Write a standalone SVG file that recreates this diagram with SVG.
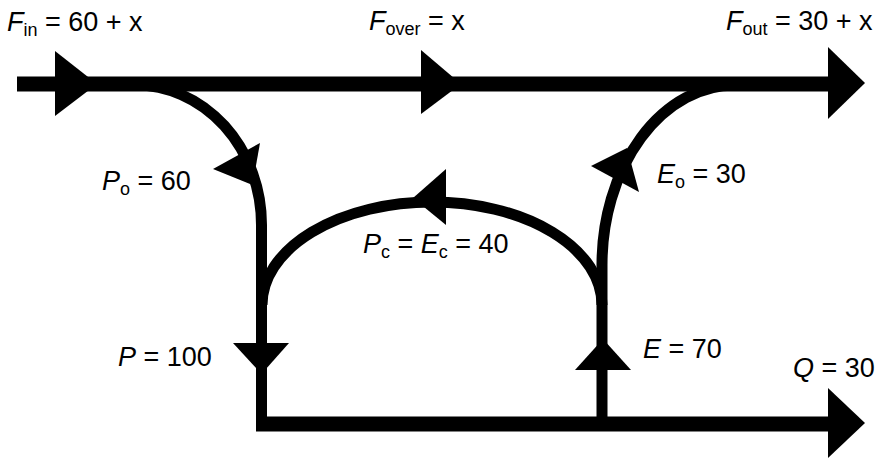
<svg xmlns="http://www.w3.org/2000/svg" width="884" height="459" viewBox="0 0 884 459">
<style>
.h{fill:none;stroke:#000;stroke-width:15}
.c{fill:none;stroke:#000;stroke-width:11}
.a{fill:#000}
text{font-family:"Liberation Sans",Arial,sans-serif;font-size:27px;fill:#000}
.i{font-style:italic}
.s{font-size:18px}
</style>
<rect width="884" height="459" fill="#fff"/>
<g id="connectors">
<path class="h" d="M17,84 H840"/>
<path class="h" d="M256,424 H840"/>
<path class="c" d="M135,85 A126 140 0 0 1 261.5,225 V424"/>
<path class="c" d="M602,424 V265 A133 180 0 0 1 735,85"/>
<path class="c" d="M262,305 A170 103 0 0 1 602,305"/>
<polygon class="a" points="55,51 55,116 97,84"/>
<polygon class="a" points="421,50 421,114 461,84"/>
<polygon class="a" points="828,47 828,119 865,83"/>
<polygon class="a" points="828,388 828,458 865,423"/>
<polygon class="a" points="213,169 260,143 252.5,185"/>
<polygon class="a" points="446,169 446,225 413,198"/>
<polygon class="a" points="591,166 639,192 627,148"/>
<polygon class="a" points="233,343 289,343 261.5,374"/>
<polygon class="a" points="575,370 631,370 603,339"/>
</g>
<g id="label-fin"><text x="7" y="31"><tspan class="i">F</tspan><tspan class="s" dy="5">in</tspan><tspan dy="-5"> = 60 + x</tspan></text></g>
<g id="label-fover"><text x="369" y="30"><tspan class="i">F</tspan><tspan class="s" dy="5">over</tspan><tspan dy="-5"> = x</tspan></text></g>
<g id="label-fout"><text x="726" y="30"><tspan class="i">F</tspan><tspan class="s" dy="5">out</tspan><tspan dy="-5"> = 30 + x</tspan></text></g>
<g id="label-po"><text x="102" y="190"><tspan class="i">P</tspan><tspan class="s" dy="5">o</tspan><tspan dy="-5"> = 60</tspan></text></g>
<g id="label-pc"><text x="363" y="253"><tspan class="i">P</tspan><tspan class="s" dy="5">c</tspan><tspan dy="-5"> = </tspan><tspan class="i">E</tspan><tspan class="s" dy="5">c</tspan><tspan dy="-5"> = 40</tspan></text></g>
<g id="label-eo"><text x="657" y="183"><tspan class="i">E</tspan><tspan class="s" dy="5">o</tspan><tspan dy="-5"> = 30</tspan></text></g>
<g id="label-p"><text x="118" y="366"><tspan class="i">P</tspan> = 100</text></g>
<g id="label-e"><text x="643" y="358"><tspan class="i">E</tspan> = 70</text></g>
<g id="label-q"><text x="793" y="377"><tspan class="i">Q</tspan> = 30</text></g>
</svg>
